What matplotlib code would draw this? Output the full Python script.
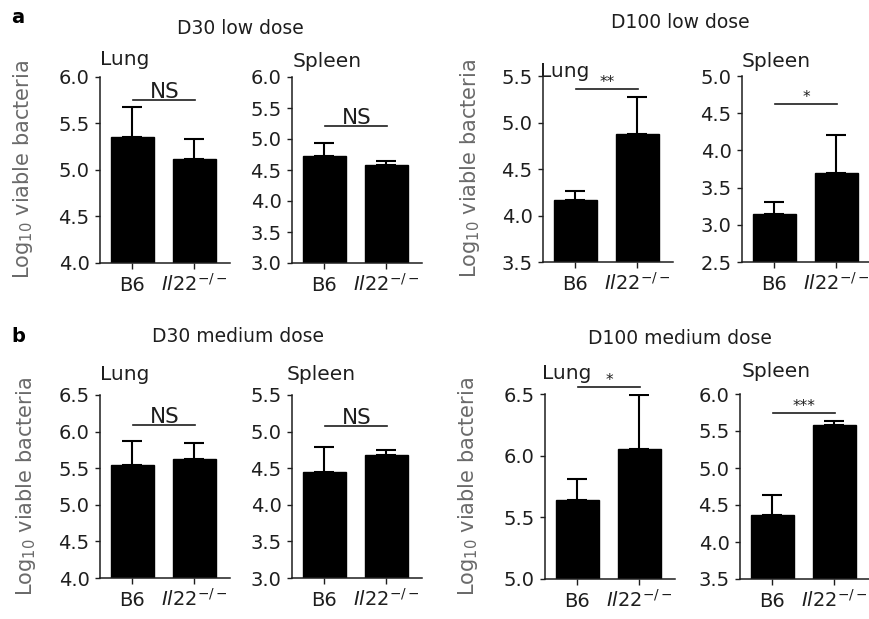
import matplotlib
matplotlib.use("Agg")
import matplotlib.pyplot as plt

plt.rcParams['font.family'] = ['DejaVu Sans']
plt.rcParams['mathtext.fontset'] = 'dejavusans'

genotypes = ['B6', r'$\mathit{Il22}^{-/-}$']
organs = ['Lung', 'Spleen']
titles = ['D30 low dose', 'D100 low dose', 'D30 medium dose', 'D100 medium dose']

# mean log10 CFU per panel: (B6, Il22-/-), panels in reading order
lung_d30_low = [5.35, 5.12]
spleen_d30_low = [4.73, 4.58]
lung_d100_low = [4.17, 4.88]
spleen_d100_low = [3.14, 3.70]
lung_d30_med = [5.55, 5.63]
spleen_d30_med = [4.45, 4.68]
lung_d100_med = [5.64, 6.05]
spleen_d100_med = [4.36, 5.58]

# upper error bars (SEM)
lung_d30_low_err = [0.33, 0.21]
spleen_d30_low_err = [0.21, 0.07]
lung_d100_low_err = [0.09, 0.39]
spleen_d100_low_err = [0.17, 0.51]
lung_d30_med_err = [0.32, 0.22]
spleen_d30_med_err = [0.34, 0.07]
lung_d100_med_err = [0.17, 0.44]
spleen_d100_med_err = [0.28, 0.06]

# y axis ranges
ylims = [(4.0, 6.0), (3.0, 6.0), (3.5, 5.5), (2.5, 5.0),
         (4.0, 6.5), (3.0, 5.5), (5.0, 6.5), (3.5, 6.0)]

# significance bars: label, height
sig_labels = ['NS', 'NS', '**', '*', 'NS', 'NS', '*', '***']
sig_heights = [5.75, 5.21, 5.36, 4.62, 6.09, 5.08, 6.56, 5.74]

means = [lung_d30_low, spleen_d30_low, lung_d100_low, spleen_d100_low,
         lung_d30_med, spleen_d30_med, lung_d100_med, spleen_d100_med]
errs = [lung_d30_low_err, spleen_d30_low_err, lung_d100_low_err, spleen_d100_low_err,
        lung_d30_med_err, spleen_d30_med_err, lung_d100_med_err, spleen_d100_med_err]

W, H = 869, 619
fig = plt.figure(figsize=(W / 100, H / 100), dpi=100)

def px(x, y):
    return x / W, 1 - y / H

# layout in pixels: axis left, top, bottom
lefts = [100, 292, 543, 742, 100, 292, 545, 740]
tops = [77, 77, 76, 76, 395, 395, 394, 394]
bottoms = [263, 263, 262, 262, 578, 578, 579, 579]
xlo, xhi = -0.52, 1.58
step = 62  # pixels per category

dark = '#1e1e1e'
for i in range(8):
    l, t, b = lefts[i], tops[i], bottoms[i]
    w = (xhi - xlo) * step
    ax = fig.add_axes([l / W, 1 - b / H, w / W, (b - t) / H])
    xs = [0, 1]
    ax.bar(xs, means[i], width=0.7, color='black', edgecolor='black', zorder=2)
    ax.errorbar(xs, means[i], yerr=[[0, 0], errs[i]], fmt='none', ecolor='black',
                elinewidth=1.5, capsize=7, capthick=1.5, zorder=1)
    lo, hi = ylims[i]
    ax.set_ylim(lo, hi)
    ax.set_xlim(xlo, xhi)
    yt = [lo + 0.5 * k for k in range(int(round((hi - lo) / 0.5)) + 1)]
    ax.set_yticks(yt)
    ax.set_yticklabels(['%.1f' % v for v in yt])
    ax.set_xticks(xs)
    ax.set_xticklabels(genotypes)
    for lab in ax.get_xticklabels():
        lab.set_va('baseline')
    for s in ['top', 'right']:
        ax.spines[s].set_visible(False)
    for s in ['left', 'bottom']:
        ax.spines[s].set_linewidth(1.1)
        ax.spines[s].set_color(dark)
    ax.tick_params(axis='y', length=3.5, width=1, pad=4, labelsize=14, colors=dark)
    ax.tick_params(axis='x', length=4.5, width=1, pad=15.5, labelsize=14, colors=dark)
    # significance bar
    h = sig_heights[i]
    ax.plot([0.02, 1.02], [h, h], color=dark, lw=1.2, clip_on=False)
    fs = 15.5 if sig_labels[i] == 'NS' else 11
    ax.annotate(sig_labels[i], xy=(0.52, h), xytext=(0, 1.5), textcoords='offset points',
                ha='center', va='baseline', fontsize=fs, color=dark, annotation_clip=False)

# organ labels (left x, baseline y)
organ_pos = [(100, 65), (293, 67), (540, 77), (742, 67),
             (100, 380), (287, 380), (542, 379), (742, 377)]
for i, (x, y) in enumerate(organ_pos):
    fig.text(*px(x, y), organs[i % 2], fontsize=14.5, color=dark, ha='left', va='baseline')

title_pos = [(240, 28), (680, 23), (238, 337), (680, 339)]
for (x, y), t in zip(title_pos, titles):
    fig.text(*px(x, y), t, fontsize=13.5, color=dark, ha='center', va='center')

ylab_pos = [(23, 170), (470, 169), (26, 487), (468, 487)]
for x, y in ylab_pos:
    fig.text(*px(x, y), r'Log$_{10}$ viable bacteria', fontsize=15, color='#6a6a6a',
             rotation=90, ha='center', va='center')

fig.text(*px(11, 23), 'a', fontsize=14, fontweight='bold', color='black', va='baseline')
fig.text(*px(11, 342), 'b', fontsize=14, fontweight='bold', color='black', va='baseline')

fig.savefig('out.png', dpi=100)
